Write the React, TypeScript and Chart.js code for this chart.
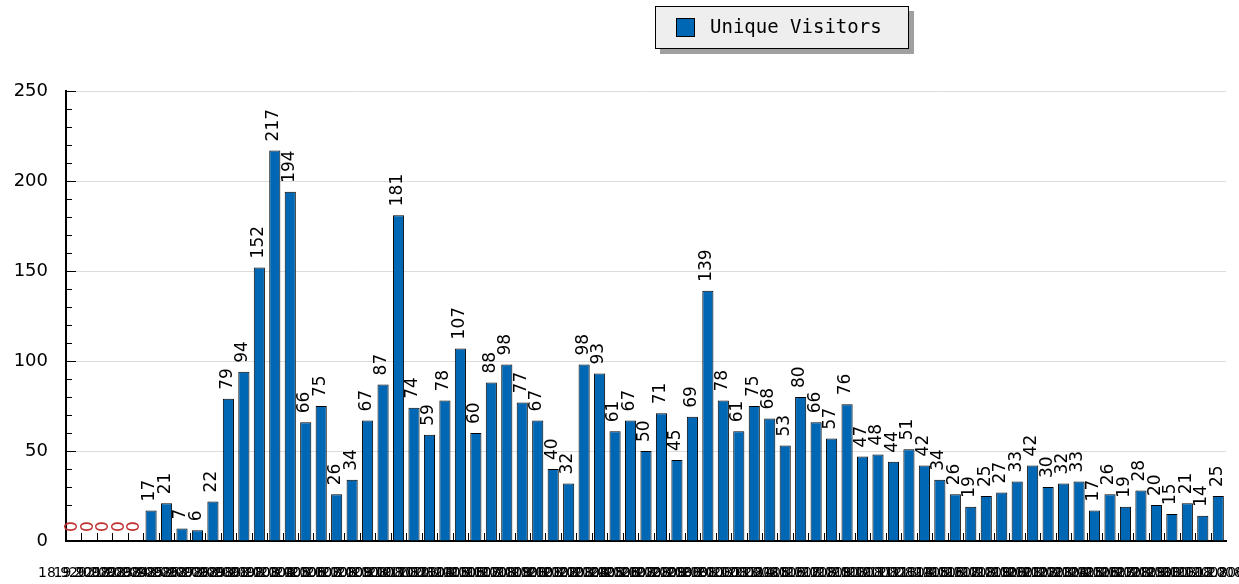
import React, { useEffect, useRef } from "react";
import { Chart, registerables } from "chart.js";

Chart.register(...registerables);

const seriesName = "Unique Visitors";

const categories = [
  "18.9.2008", "19.9.2008", "20.9.2008", "21.9.2008", "22.9.2008", "23.9.2008", "24.9.2008",
  "25.9.2008", "26.9.2008", "27.9.2008", "28.9.2008", "29.9.2008", "30.9.2008",
  "1.10.2008", "2.10.2008", "3.10.2008", "4.10.2008", "5.10.2008", "6.10.2008", "7.10.2008",
  "8.10.2008", "9.10.2008", "10.10.2008", "11.10.2008", "12.10.2008", "13.10.2008", "14.10.2008",
  "15.10.2008", "16.10.2008", "17.10.2008", "18.10.2008", "19.10.2008", "20.10.2008", "21.10.2008",
  "22.10.2008", "23.10.2008", "24.10.2008", "25.10.2008", "26.10.2008", "27.10.2008", "28.10.2008",
  "29.10.2008", "30.10.2008", "31.10.2008",
  "1.11.2008", "2.11.2008", "3.11.2008", "4.11.2008", "5.11.2008", "6.11.2008", "7.11.2008",
  "8.11.2008", "9.11.2008", "10.11.2008", "11.11.2008", "12.11.2008", "13.11.2008", "14.11.2008",
  "15.11.2008", "16.11.2008", "17.11.2008", "18.11.2008", "19.11.2008", "20.11.2008", "21.11.2008",
  "22.11.2008", "23.11.2008", "24.11.2008", "25.11.2008", "26.11.2008", "27.11.2008", "28.11.2008",
  "29.11.2008", "30.11.2008", "1.12.2008",
];

const visitors = [
  0, 0, 0, 0, 0, 17, 21, 7, 6, 22,
  79, 94, 152, 217, 194, 66, 75, 26, 34, 67,
  87, 181, 74, 59, 78, 107, 60, 88, 98, 77,
  67, 40, 32, 98, 93, 61, 67, 50, 71, 45,
  69, 139, 78, 61, 75, 68, 53, 80, 66, 57,
  76, 47, 48, 44, 51, 42, 34, 26, 19, 25,
  27, 33, 42, 30, 32, 33, 17, 26, 19, 28,
  20, 15, 21, 14, 25,
];

const yMin = 0;
const yMax = 250;
const yStep = 50;
const yMinorStep = 10;

const BAR_BLUE = "#0067b4";

const insideTicksPlugin = {
  id: "insideTicks",
  afterDatasetsDraw(chart: any) {
    const { ctx, scales, chartArea } = chart;
    const x = scales.x;
    const y = scales.y;
    ctx.save();
    ctx.strokeStyle = "#000";
    ctx.lineWidth = 1;
    // x ticks at slot boundaries, pointing up
    for (let i = 1; i < categories.length; i++) {
      const px = Math.round((x.getPixelForValue(i - 1) + x.getPixelForValue(i)) / 2) + 0.5;
      ctx.beginPath();
      ctx.moveTo(px, chartArea.bottom);
      ctx.lineTo(px, chartArea.bottom - 8);
      ctx.stroke();
    }
    // y ticks inside, major and minor
    for (let v = yMin; v <= yMax; v += yMinorStep) {
      const py = Math.round(y.getPixelForValue(v)) + 0.5;
      const len = v % yStep === 0 ? 10 : 6;
      ctx.beginPath();
      ctx.moveTo(chartArea.left, py);
      ctx.lineTo(chartArea.left + len, py);
      ctx.stroke();
    }
    ctx.restore();
  },
};

const valueLabelsPlugin = {
  id: "valueLabels",
  afterDatasetsDraw(chart: any) {
    const { ctx } = chart;
    const meta = chart.getDatasetMeta(0);
    ctx.save();
    ctx.font = '17px "DejaVu Sans"';
    ctx.textAlign = "left";
    ctx.textBaseline = "middle";
    meta.data.forEach((bar: any, i: number) => {
      const v = visitors[i];
      ctx.save();
      ctx.translate(bar.x - 1, bar.y - 9);
      ctx.rotate(-Math.PI / 2);
      ctx.fillStyle = v === 0 ? "#c03030" : "#000";
      ctx.fillText(String(v), 0, 0);
      ctx.restore();
    });
    ctx.restore();
  },
};

const legendBoxPlugin = {
  id: "legendBox",
  afterDraw(chart: any) {
    const { ctx } = chart;
    const bx = 655, by = 6, bw = 254, bh = 43;
    ctx.save();
    ctx.fillStyle = "#a0a0a0";
    ctx.fillRect(bx + 5, by + 5, bw, bh);
    ctx.fillStyle = "#eeeeee";
    ctx.fillRect(bx, by, bw, bh);
    ctx.strokeStyle = "#000";
    ctx.lineWidth = 1;
    ctx.strokeRect(bx + 0.5, by + 0.5, bw - 1, bh - 1);
    ctx.fillStyle = BAR_BLUE;
    ctx.fillRect(676, 18, 18, 18);
    ctx.strokeRect(676.5, 18.5, 18, 18);
    ctx.fillStyle = "#000";
    ctx.font = '19px "DejaVu Sans Mono"';
    ctx.textAlign = "left";
    ctx.textBaseline = "middle";
    ctx.fillText(seriesName, 710, 28);
    ctx.restore();
  },
};

export default function App() {
  const ref = useRef<HTMLCanvasElement>(null);
  useEffect(() => {
    document.body.style.margin = "0";
    const canvas = ref.current;
    if (!canvas) return;
    const chart = new Chart(canvas, {
      type: "bar",
      data: {
        labels: categories,
        datasets: [
          {
            label: seriesName,
            data: visitors,
            backgroundColor: BAR_BLUE,
            borderColor: "#000",
            borderWidth: 1,
            barPercentage: 0.72,
            categoryPercentage: 1,
          },
        ],
      },
      options: {
        animation: false,
        responsive: true,
        maintainAspectRatio: false,
        layout: { padding: { top: 91, right: 13, left: 0, bottom: 0 } },
        plugins: {
          legend: { display: false },
          tooltip: { enabled: false },
        },
        scales: {
          x: {
            offset: true,
            grid: { display: false, drawTicks: false },
            border: { display: true, color: "#000", width: 2 },
            ticks: {
              autoSkip: false,
              maxRotation: 0,
              minRotation: 0,
              padding: 24,
              color: "#000",
              font: { family: "DejaVu Sans", size: 14 },
            },
            afterFit(scale: any) {
              scale.height = 43;
              scale.paddingLeft = 0;
              scale.paddingRight = 0;
            },
          },
          y: {
            min: yMin,
            max: yMax,
            grid: { color: "#dcdcdc", lineWidth: 1, drawTicks: false },
            border: { display: true, color: "#000", width: 2 },
            ticks: {
              stepSize: yStep,
              padding: 18,
              color: "#000",
              font: { family: "DejaVu Sans", size: 18 },
            },
            afterFit(scale: any) {
              scale.width = 66;
            },
          },
        },
      },
      plugins: [insideTicksPlugin, valueLabelsPlugin, legendBoxPlugin],
    });
    return () => chart.destroy();
  }, []);
  return (
    <div style={{ position: "relative", width: 1239, height: 584 }}>
      <canvas ref={ref} />
    </div>
  );
}
